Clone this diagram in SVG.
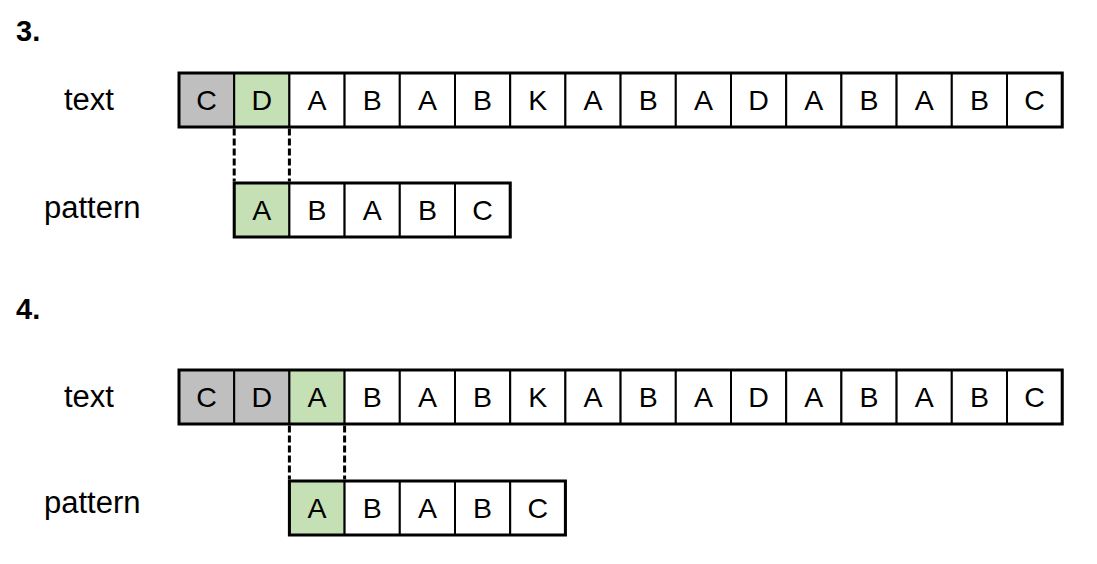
<svg xmlns="http://www.w3.org/2000/svg" width="1097" height="564" viewBox="0 0 1097 564">
<style>
.lbl{font-family:"Liberation Sans",Arial,sans-serif;font-size:31px;fill:#000}
.num{font-family:"Liberation Sans",Arial,sans-serif;font-size:29px;font-weight:bold;fill:#000}
.ch{font-family:"Liberation Sans",Arial,sans-serif;font-size:28.5px;fill:#000;text-anchor:middle}
.cell{fill:#fff;stroke:#000;stroke-width:2}
.g{fill:#bfbfbf}
.gr{fill:#c5e0b4}
.outer{fill:none;stroke:#000;stroke-width:3}
.dash{stroke:#000;stroke-width:3;stroke-dasharray:7 3;fill:none}
</style>
<rect width="1097" height="564" fill="#fff"/>
<g id="labels">
<text class="num" x="16" y="41">3.</text>
<text class="lbl" x="64" y="110">text</text>
<text class="lbl" x="44" y="218">pattern</text>
<text class="num" x="16" y="319">4.</text>
<text class="lbl" x="64" y="407">text</text>
<text class="lbl" x="44" y="513">pattern</text>
</g>
<g id="text3">
<rect class="cell g" x="179" y="73" width="55.2" height="54"/><text class="ch" x="206.6" y="110">C</text>
<rect class="cell gr" x="234.2" y="73" width="55.2" height="54"/><text class="ch" x="261.8" y="110">D</text>
<rect class="cell" x="289.4" y="73" width="55.2" height="54"/><text class="ch" x="317" y="110">A</text>
<rect class="cell" x="344.6" y="73" width="55.2" height="54"/><text class="ch" x="372.2" y="110">B</text>
<rect class="cell" x="399.8" y="73" width="55.2" height="54"/><text class="ch" x="427.4" y="110">A</text>
<rect class="cell" x="455" y="73" width="55.2" height="54"/><text class="ch" x="482.6" y="110">B</text>
<rect class="cell" x="510.2" y="73" width="55.2" height="54"/><text class="ch" x="537.8" y="110">K</text>
<rect class="cell" x="565.4" y="73" width="55.2" height="54"/><text class="ch" x="593" y="110">A</text>
<rect class="cell" x="620.6" y="73" width="55.2" height="54"/><text class="ch" x="648.2" y="110">B</text>
<rect class="cell" x="675.8" y="73" width="55.2" height="54"/><text class="ch" x="703.4" y="110">A</text>
<rect class="cell" x="731" y="73" width="55.2" height="54"/><text class="ch" x="758.6" y="110">D</text>
<rect class="cell" x="786.2" y="73" width="55.2" height="54"/><text class="ch" x="813.8" y="110">A</text>
<rect class="cell" x="841.4" y="73" width="55.2" height="54"/><text class="ch" x="869" y="110">B</text>
<rect class="cell" x="896.6" y="73" width="55.2" height="54"/><text class="ch" x="924.2" y="110">A</text>
<rect class="cell" x="951.8" y="73" width="55.2" height="54"/><text class="ch" x="979.4" y="110">B</text>
<rect class="cell" x="1007" y="73" width="55.2" height="54"/><text class="ch" x="1034.6" y="110">C</text>
<rect class="outer" x="179" y="73" width="883.2" height="54"/>
</g>
<g id="pattern3">
<rect class="cell gr" x="234.2" y="183" width="55.2" height="54"/><text class="ch" x="261.8" y="220">A</text>
<rect class="cell" x="289.4" y="183" width="55.2" height="54"/><text class="ch" x="317" y="220">B</text>
<rect class="cell" x="344.6" y="183" width="55.2" height="54"/><text class="ch" x="372.2" y="220">A</text>
<rect class="cell" x="399.8" y="183" width="55.2" height="54"/><text class="ch" x="427.4" y="220">B</text>
<rect class="cell" x="455" y="183" width="55.2" height="54"/><text class="ch" x="482.6" y="220">C</text>
<rect class="outer" x="234.2" y="183" width="276" height="54"/>
</g>
<g id="text4">
<rect class="cell g" x="179" y="370" width="55.2" height="54"/><text class="ch" x="206.6" y="407">C</text>
<rect class="cell g" x="234.2" y="370" width="55.2" height="54"/><text class="ch" x="261.8" y="407">D</text>
<rect class="cell gr" x="289.4" y="370" width="55.2" height="54"/><text class="ch" x="317" y="407">A</text>
<rect class="cell" x="344.6" y="370" width="55.2" height="54"/><text class="ch" x="372.2" y="407">B</text>
<rect class="cell" x="399.8" y="370" width="55.2" height="54"/><text class="ch" x="427.4" y="407">A</text>
<rect class="cell" x="455" y="370" width="55.2" height="54"/><text class="ch" x="482.6" y="407">B</text>
<rect class="cell" x="510.2" y="370" width="55.2" height="54"/><text class="ch" x="537.8" y="407">K</text>
<rect class="cell" x="565.4" y="370" width="55.2" height="54"/><text class="ch" x="593" y="407">A</text>
<rect class="cell" x="620.6" y="370" width="55.2" height="54"/><text class="ch" x="648.2" y="407">B</text>
<rect class="cell" x="675.8" y="370" width="55.2" height="54"/><text class="ch" x="703.4" y="407">A</text>
<rect class="cell" x="731" y="370" width="55.2" height="54"/><text class="ch" x="758.6" y="407">D</text>
<rect class="cell" x="786.2" y="370" width="55.2" height="54"/><text class="ch" x="813.8" y="407">A</text>
<rect class="cell" x="841.4" y="370" width="55.2" height="54"/><text class="ch" x="869" y="407">B</text>
<rect class="cell" x="896.6" y="370" width="55.2" height="54"/><text class="ch" x="924.2" y="407">A</text>
<rect class="cell" x="951.8" y="370" width="55.2" height="54"/><text class="ch" x="979.4" y="407">B</text>
<rect class="cell" x="1007" y="370" width="55.2" height="54"/><text class="ch" x="1034.6" y="407">C</text>
<rect class="outer" x="179" y="370" width="883.2" height="54"/>
</g>
<g id="pattern4">
<rect class="cell gr" x="289.4" y="481" width="55.2" height="54"/><text class="ch" x="317" y="518">A</text>
<rect class="cell" x="344.6" y="481" width="55.2" height="54"/><text class="ch" x="372.2" y="518">B</text>
<rect class="cell" x="399.8" y="481" width="55.2" height="54"/><text class="ch" x="427.4" y="518">A</text>
<rect class="cell" x="455" y="481" width="55.2" height="54"/><text class="ch" x="482.6" y="518">B</text>
<rect class="cell" x="510.2" y="481" width="55.2" height="54"/><text class="ch" x="537.8" y="518">C</text>
<rect class="outer" x="289.4" y="481" width="276" height="54"/>
</g>
<g id="connectors">
<line class="dash" x1="234.2" y1="128.5" x2="234.2" y2="181.5"/>
<line class="dash" x1="289.4" y1="128.5" x2="289.4" y2="181.5"/>
<line class="dash" x1="289.4" y1="425.5" x2="289.4" y2="479.5"/>
<line class="dash" x1="344.6" y1="425.5" x2="344.6" y2="479.5"/>
</g>
</svg>
